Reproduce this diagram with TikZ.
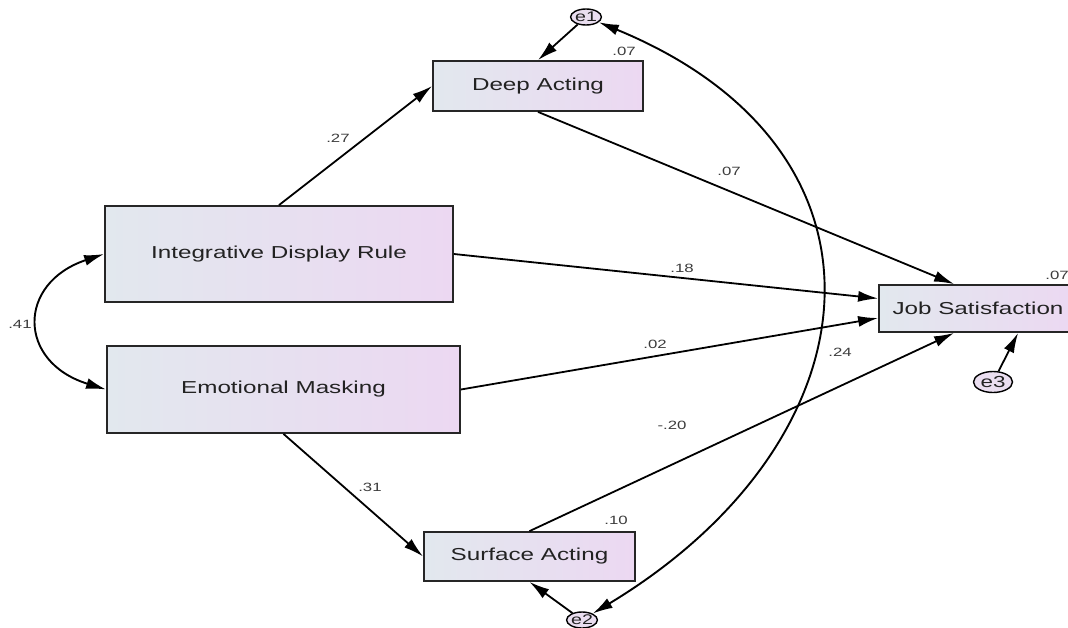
\documentclass[tikz,border=0pt]{standalone}
\usepackage{fontspec}
\setmainfont{Liberation Sans}[FakeStretch=1.4]
\usetikzlibrary{arrows.meta,shapes.geometric,calc}
\definecolor{boxL}{RGB}{226,232,238}
\definecolor{boxR}{RGB}{236,216,242}
\definecolor{errfill}{RGB}{234,222,240}
\definecolor{txt}{RGB}{34,34,34}
\definecolor{lbl}{RGB}{60,60,60}
\begin{document}
\begin{tikzpicture}[x=1pt,y=-1pt,
  var/.style={draw=black!85,line width=1.8pt,left color=boxL,right color=boxR,
    inner sep=0pt,text=txt,font=\fontsize{17.3}{20}\selectfont},
  err/.style={ellipse,draw=black,line width=1.4pt,fill=errfill,inner sep=0pt,text=txt},
  path/.style={line width=1.8pt,-{Latex[length=20pt,width=11pt]}},
  cov/.style={line width=1.9pt,{Latex[length=20pt,width=11pt]}-{Latex[length=20pt,width=11pt]}},
  coef/.style={text=lbl,font=\fontsize{12}{13}\selectfont,inner sep=0pt}]
\useasboundingbox (0,0) rectangle (1068,627);
% variables
\node[var,minimum width=210pt,minimum height=50pt] (DA) at (538,86) {Deep Acting};
\node[var,minimum width=348pt,minimum height=96pt] (IDR) at (279,254) {Integrative Display Rule};
\node[var,minimum width=353pt,minimum height=87pt] (EM) at (283.5,389.5) {Emotional Masking};
\node[var,minimum width=211pt,minimum height=49pt] (SA) at (529.5,556.5) {Surface Acting};
\node[var,minimum width=198pt,minimum height=47pt] (JS) at (978,308.5) {Job Satisfaction};
% errors
\node[err,minimum width=26pt,minimum height=16pt,font=\fontsize{14}{14}\selectfont] (e1) at (586,17) {e1};
\node[err,minimum width=26pt,minimum height=16pt,font=\fontsize{14}{14}\selectfont] (e2) at (582,620) {e2};
\node[err,minimum width=39pt,minimum height=21pt,font=\fontsize{16}{16}\selectfont] (e3) at (993,382) {e3};
% paths
\draw[path] (IDR.north) -- (DA.west);
\draw[path] (DA.south) -- ([xshift=76pt]JS.north west);
\draw[path] (IDR.east) -- ([yshift=10pt]JS.west);
\draw[path] (EM.east) -- ([yshift=-9.5pt]JS.west);
\draw[path] (SA.north) -- ([xshift=76pt]JS.south west);
\draw[path] (EM.south) -- (SA.west);
\draw[path] (e1) -- (DA.north);
\draw[path] (e2) -- (SA.south);
\draw[path] (e3) -- ([xshift=140pt]JS.south west);
% covariances
\draw[cov] (IDR.west) .. controls (17,283) and (17,362) .. (EM.west);
\draw[cov] (e1) .. controls (910,150) and (880,440) .. (e2);
% coefficients
\node[coef] (c1) at (338,138) {.27};
\node[coef] (c2) at (729,171) {.07};
\node[coef] (c3) at (682,268) {.18};
\node[coef] (c4) at (655,344) {.02};
\node[coef] (c5) at (672,425) {-.20};
\node[coef] (c6) at (370,487) {.31};
\node[coef] (c7) at (840,352) {.24};
\node[coef] (c8) at (20,324) {.41};
\node[coef] (r1) at (624,51) {.07};
\node[coef] (r2) at (616,520) {.10};
\node[coef] (r3) at (1057,275) {.07};
\end{tikzpicture}
\end{document}
